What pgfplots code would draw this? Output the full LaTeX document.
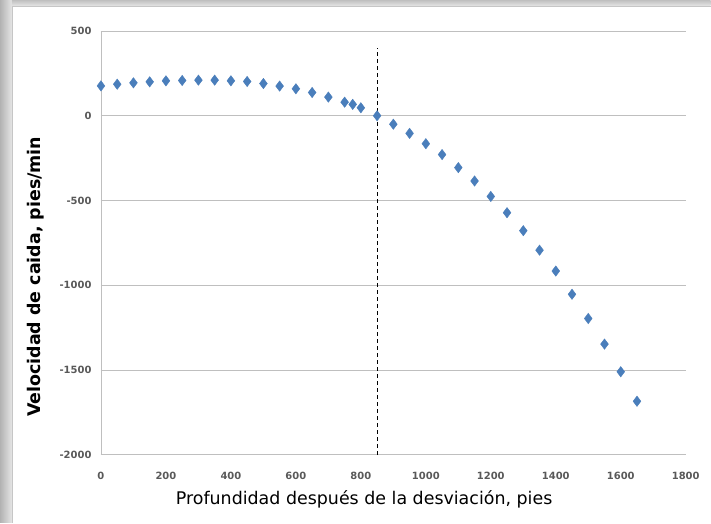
\documentclass[border=0pt]{standalone}
\usepackage{pgfplots}
\pgfplotsset{compat=1.18}
\usepackage{fontspec}
\setmainfont{DejaVu Sans}
\definecolor{markblue}{HTML}{4A7EBB}
\definecolor{ticktext}{HTML}{595959}
\definecolor{gridgray}{HTML}{BFBFBF}

\begin{document}
\begin{tikzpicture}[x=1bp,y=1bp]
% card and shadow
\fill[white] (0,0) rectangle (711,523);
\shade[left color=gray!60, right color=gray!20] (0,0) rectangle (12,523);
\shade[top color=gray!50, bottom color=gray!20] (12,517) rectangle (711,523);
\fill[white] (12,0) rectangle (711,517);
\draw[gray!45, line width=0.6bp] (12,0) -- (12,517) -- (711,517);

\begin{axis}[
    at={(101bp,68bp)}, anchor=south west,
    scale only axis, width=585bp, height=424bp,
    xmin=0, xmax=1800, ymin=-2000, ymax=500,
    xtick distance=200, ytick distance=500,
    axis lines=left,
    axis line style={-, draw=gridgray, line width=0.8bp},
    ymajorgrids, grid style={gridgray, line width=0.8bp},
    major tick length=0pt,
    tick label style={font=\fontsize{10}{12}\selectfont\bfseries, text=ticktext},
    /pgf/number format/assume math mode=true,
    /pgf/number format/1000 sep={},
    xticklabel style={yshift=-14bp},
    yticklabel style={xshift=-6bp},
    xlabel={Profundidad después de la desviación, pies},
    ylabel={Velocidad de caida, pies/min},
    xlabel style={font=\fontsize{17.5}{20}\selectfont,
        at={(axis description cs:0.45,-0.106)}, anchor=center},
    ylabel style={font=\fontsize{17.5}{20}\selectfont\bfseries,
        at={(axis description cs:-0.112,0.42)}, anchor=center},
    clip=false,
]
\addplot[black, dashed, line width=0.8bp, dash pattern=on 4bp off 3bp] coordinates {(850,-2000) (850,400)};
\addplot[only marks, mark=diamond*, mark size=5.2bp, markblue, mark options={fill=markblue, draw=markblue}] coordinates {
(0,176) (50,186) (100,194) (150,200) (200,206) (250,208) (300,210) (350,210)
(400,206) (450,202) (500,190) (550,175) (600,159) (650,137) (700,110) (750,80)
(775,67) (800,47) (850,0) (900,-50) (950,-104) (1000,-165) (1050,-229) (1100,-306)
(1150,-385) (1200,-476) (1250,-572) (1300,-678) (1350,-793) (1400,-916) (1450,-1053)
(1500,-1196) (1550,-1347) (1600,-1510) (1650,-1684)
};
\end{axis}
\end{tikzpicture}
\end{document}
